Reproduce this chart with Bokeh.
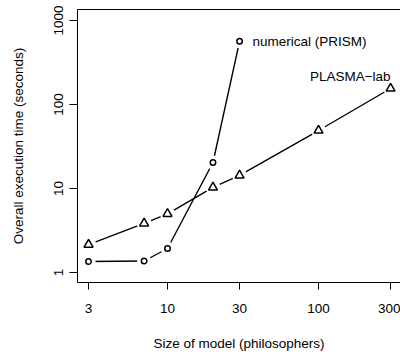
from bokeh.plotting import figure
from bokeh.models import Range1d, FixedTicker, LogAxis
from bokeh.core.properties import value
from bokeh.embed import file_html
from bokeh.resources import INLINE

# data
prism_x = [3, 7, 10, 20, 30]
prism_y = [1.35, 1.37, 1.93, 20.4, 565]
plasma_x = [3, 7, 10, 20, 30, 100, 300]
plasma_y = [2.15, 3.85, 5.0, 10.3, 14.3, 49, 155]
x_ticks = [3, 10, 30, 100, 300]
y_ticks = [1, 10, 100, 1000]
prism_label = "numerical (PRISM)"
plasma_label = "PLASMA\u2212lab"

FONT = "Liberation Sans"
FS = "13.5px"

p = figure(x_axis_type="log", y_axis_type="log", output_backend="svg",
           toolbar_location=None, frame_width=323, frame_height=273,
           min_border_left=77, min_border_right=0, min_border_top=9,
           min_border_bottom=72,
           x_range=Range1d(2.535, 349), y_range=Range1d(0.76, 1352))
p.background_fill_color = "white"
p.border_fill_color = "white"
p.outline_line_color = None
p.grid.visible = False

for ax in (p.xaxis[0], p.yaxis[0]):
    ax.axis_line_color = "black"
    ax.axis_line_width = 1
    ax.major_tick_line_color = "black"
    ax.major_tick_in = 0
    ax.minor_tick_line_color = None
    ax.major_label_text_font = FONT
    ax.major_label_text_font_size = FS
    ax.major_label_text_color = "black"
    ax.axis_label_text_font = FONT
    ax.axis_label_text_font_size = FS
    ax.axis_label_text_font_style = "normal"
    ax.axis_label_text_color = "black"

p.xaxis.ticker = FixedTicker(ticks=x_ticks)
p.yaxis.ticker = FixedTicker(ticks=y_ticks)
p.xaxis.major_label_overrides = {t: str(t) for t in x_ticks}
p.yaxis.major_label_overrides = {t: str(t) for t in y_ticks}
p.xaxis.major_tick_out = 7
p.yaxis.major_tick_out = 8
p.xaxis.major_label_standoff = 14
p.yaxis.major_label_standoff = 6
p.yaxis.major_label_orientation = "vertical"
p.xaxis.axis_label = "Size of model (philosophers)"
p.yaxis.axis_label = "Overall execution time (seconds)"
p.xaxis.axis_label_standoff = 20
p.yaxis.axis_label_standoff = 26

top = LogAxis(ticker=FixedTicker(ticks=[]), major_tick_out=0, major_tick_in=0,
              major_label_text_font_size="0px", major_label_standoff=0,
              axis_line_color="black", minor_tick_line_color=None)
p.add_layout(top, "above")

LW = 1.4
p.line(prism_x, prism_y, line_color="black", line_width=LW)
p.line(plasma_x, plasma_y, line_color="black", line_width=LW)
# gaps around points (type="b")
p.scatter(prism_x, prism_y, marker="circle", size=14, fill_color="white",
          line_color=None)
p.scatter(plasma_x, plasma_y, marker="circle", size=15, fill_color="white",
          line_color=None)
p.scatter(prism_x, prism_y, marker="circle", size=5.5, fill_color="white",
          line_color="black", line_width=1.5)
p.scatter(plasma_x, plasma_y, marker="triangle", size=9, fill_color="white",
          line_color="black", line_width=1.5)

p.text(x=[prism_x[-1]], y=[prism_y[-1]], text=[prism_label], x_offset=13,
       text_align="left", text_baseline="middle",
       text_font=value(FONT), text_font_size=FS, text_color="black")
p.text(x=[plasma_x[-1]], y=[plasma_y[-1]], text=[plasma_label], x_offset=0,
       y_offset=-12, text_align="right", text_baseline="middle",
       text_font=value(FONT), text_font_size=FS, text_color="black")

open("out.html", "w").write(file_html(p, INLINE))
